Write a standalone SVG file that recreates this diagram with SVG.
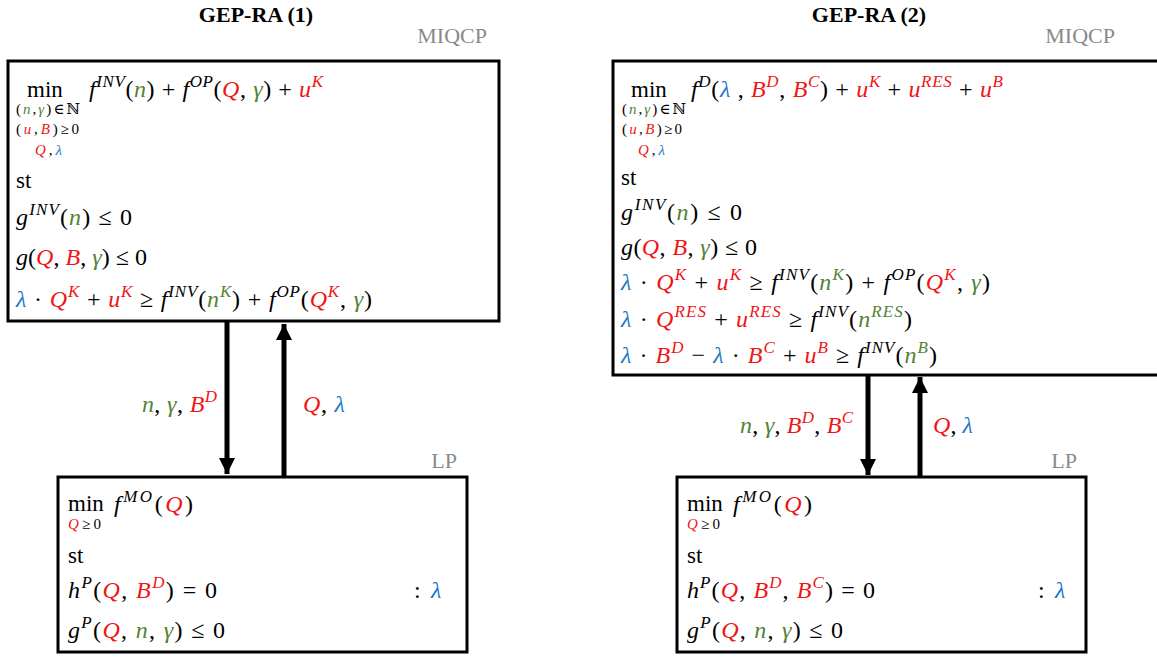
<svg xmlns="http://www.w3.org/2000/svg" width="1157" height="657" viewBox="0 0 1157 657">
<defs>
<style>
.t{font-family:"Liberation Serif","DejaVu Serif",serif;font-size:24px;fill:#000}
.m{font-family:"Liberation Serif","DejaVu Serif",serif;font-size:23px;fill:#000}
.i{font-style:italic}
.r{fill:#f01414}
.g{fill:#548235}
.b{fill:#2077c2}
.sp{font-size:17px}
.sb{font-size:15px;font-family:"Liberation Serif","DejaVu Serif",serif;fill:#000}
.ttl{font-family:"Liberation Serif",serif;font-size:22px;font-weight:bold;fill:#000}
.lab{font-family:"Liberation Serif",serif;font-size:22px;fill:#8a8a8a}
.box{fill:#fff;stroke:#000;stroke-width:3}
.ln{stroke:#000;stroke-width:5;fill:none}
</style>
<marker id="ah" viewBox="0 0 10 10" refX="10" refY="5" markerWidth="3.2" markerHeight="3.2" orient="auto" markerUnits="strokeWidth">
<path d="M0,0 L10,5 L0,10 Z" fill="#000"/>
</marker>
</defs>
<rect width="1157" height="657" fill="#fff"/>

<text class="ttl" x="256" y="22" text-anchor="middle">GEP-RA (1)</text>
<text class="ttl" x="869" y="22" text-anchor="middle">GEP-RA (2)</text>

<g id="connectors">
<line class="ln" x1="227" y1="322" x2="227" y2="474" marker-end="url(#ah)"/>
<line class="ln" x1="284" y1="476" x2="284" y2="324" marker-end="url(#ah)"/>
<line class="ln" x1="868" y1="376" x2="868" y2="475" marker-end="url(#ah)"/>
<line class="ln" x1="920" y1="477" x2="920" y2="377" marker-end="url(#ah)"/>
<text class="t" x="142" y="412" textLength="75" lengthAdjust="spacing"><tspan class="i g">n</tspan>, <tspan class="i g">γ</tspan>, <tspan class="i r">B</tspan><tspan class="i r sp" dy="-10">D</tspan></text>
<text class="t" x="303" y="412" textLength="42" lengthAdjust="spacing"><tspan class="i r">Q</tspan>, <tspan class="i b">λ</tspan></text>
<text class="t" x="740" y="433" textLength="113" lengthAdjust="spacing"><tspan class="i g">n</tspan>, <tspan class="i g">γ</tspan>, <tspan class="i r">B</tspan><tspan class="i r sp" dy="-10">D</tspan><tspan dy="10">, </tspan><tspan class="i r">B</tspan><tspan class="i r sp" dy="-10">C</tspan></text>
<text class="t" x="933" y="433" textLength="40" lengthAdjust="spacing"><tspan class="i r">Q</tspan>, <tspan class="i b">λ</tspan></text>
</g>

<g id="gep1">
<rect class="box" x="8" y="61" width="491" height="260"/>
<text class="lab" x="487" y="43" text-anchor="end">MIQCP</text>
<text class="m" x="27" y="97">min</text>
<text class="t" x="89" y="97" textLength="234" lengthAdjust="spacing"><tspan class="i">f</tspan><tspan class="i sp" dy="-10">INV</tspan><tspan dy="10">(</tspan><tspan class="i g">n</tspan>) + <tspan class="i">f</tspan><tspan class="i sp" dy="-10">OP</tspan><tspan dy="10">(</tspan><tspan class="i r">Q</tspan>, <tspan class="i g">γ</tspan>) + <tspan class="i r">u</tspan><tspan class="i r sp" dy="-10">K</tspan></text>
<text class="sb" x="16" y="114" textLength="64" lengthAdjust="spacing">(<tspan class="i g">n</tspan>,<tspan class="i g">γ</tspan>)∈ℕ</text>
<text class="sb" x="16" y="134" textLength="63" lengthAdjust="spacing">(<tspan class="i r">u</tspan>,<tspan class="i r">B</tspan>)≥0</text>
<text class="sb" x="35" y="155" textLength="27" lengthAdjust="spacing"><tspan class="i r">Q</tspan>,<tspan class="i b">λ</tspan></text>
<text class="m" x="16" y="188">st</text>
<text class="t" x="16" y="225" textLength="116" lengthAdjust="spacing"><tspan class="i">g</tspan><tspan class="i sp" dy="-10">INV</tspan><tspan dy="10">(</tspan><tspan class="i g">n</tspan>) ≤ 0</text>
<text class="t" x="16" y="265" textLength="131" lengthAdjust="spacing"><tspan class="i">g</tspan>(<tspan class="i r">Q</tspan>, <tspan class="i r">B</tspan>, <tspan class="i g">γ</tspan>) ≤ 0</text>
<text class="t" x="16" y="307" textLength="356" lengthAdjust="spacing"><tspan class="i b">λ</tspan> · <tspan class="i r">Q</tspan><tspan class="i r sp" dy="-10">K</tspan><tspan dy="10"> + </tspan><tspan class="i r">u</tspan><tspan class="i r sp" dy="-10">K</tspan><tspan dy="10"> ≥ </tspan><tspan class="i">f</tspan><tspan class="i sp" dy="-10">INV</tspan><tspan dy="10">(</tspan><tspan class="i g">n</tspan><tspan class="i g sp" dy="-10">K</tspan><tspan dy="10">) + </tspan><tspan class="i">f</tspan><tspan class="i sp" dy="-10">OP</tspan><tspan dy="10">(</tspan><tspan class="i r">Q</tspan><tspan class="i r sp" dy="-10">K</tspan><tspan dy="10">, </tspan><tspan class="i g">γ</tspan>)</text>
</g>

<g id="lp1">
<rect class="box" x="58" y="477" width="409" height="175"/>
<text class="lab" x="457" y="468" text-anchor="end">LP</text>
<text class="m" x="68" y="511">min</text>
<text class="t" x="114" y="512" textLength="79" lengthAdjust="spacing"><tspan class="i">f</tspan><tspan class="i sp" dy="-10">MO</tspan><tspan dy="10">(</tspan><tspan class="i r">Q</tspan>)</text>
<text class="sb" x="68" y="529" textLength="33" lengthAdjust="spacing"><tspan class="i r">Q</tspan>≥0</text>
<text class="m" x="68" y="563">st</text>
<text class="t" x="68" y="598" textLength="149" lengthAdjust="spacing"><tspan class="i">h</tspan><tspan class="i sp" dy="-10">P</tspan><tspan dy="10">(</tspan><tspan class="i r">Q</tspan>, <tspan class="i r">B</tspan><tspan class="i r sp" dy="-10">D</tspan><tspan dy="10">) = 0</tspan></text>
<text class="t" x="414" y="598">:</text>
<text class="t i b" x="431" y="598">λ</text>
<text class="t" x="68" y="638" textLength="157" lengthAdjust="spacing"><tspan class="i">g</tspan><tspan class="i sp" dy="-10">P</tspan><tspan dy="10">(</tspan><tspan class="i r">Q</tspan>, <tspan class="i g">n</tspan>, <tspan class="i g">γ</tspan>) ≤ 0</text>
</g>

<g id="gep2">
<rect class="box" x="613" y="61" width="560" height="314"/>
<text class="lab" x="1115" y="43" text-anchor="end">MIQCP</text>
<text class="m" x="631" y="97">min</text>
<text class="t" x="691" y="97" textLength="312" lengthAdjust="spacing"><tspan class="i">f</tspan><tspan class="i sp" dy="-10">D</tspan><tspan dy="10">(</tspan><tspan class="i b">λ</tspan> , <tspan class="i r">B</tspan><tspan class="i r sp" dy="-10">D</tspan><tspan dy="10">, </tspan><tspan class="i r">B</tspan><tspan class="i r sp" dy="-10">C</tspan><tspan dy="10">) + </tspan><tspan class="i r">u</tspan><tspan class="i r sp" dy="-10">K</tspan><tspan dy="10"> + </tspan><tspan class="i r">u</tspan><tspan class="i r sp" dy="-10">RES</tspan><tspan dy="10"> + </tspan><tspan class="i r">u</tspan><tspan class="i r sp" dy="-10">B</tspan></text>
<text class="sb" x="622" y="114" textLength="64" lengthAdjust="spacing">(<tspan class="i g">n</tspan>,<tspan class="i g">γ</tspan>)∈ℕ</text>
<text class="sb" x="622" y="134" textLength="60" lengthAdjust="spacing">(<tspan class="i r">u</tspan>,<tspan class="i r">B</tspan>)≥0</text>
<text class="sb" x="638" y="155" textLength="27" lengthAdjust="spacing"><tspan class="i r">Q</tspan>,<tspan class="i b">λ</tspan></text>
<text class="m" x="621" y="185">st</text>
<text class="t" x="621" y="220" textLength="121" lengthAdjust="spacing"><tspan class="i">g</tspan><tspan class="i sp" dy="-10">INV</tspan><tspan dy="10">(</tspan><tspan class="i g">n</tspan>) ≤ 0</text>
<text class="t" x="621" y="255" textLength="136" lengthAdjust="spacing"><tspan class="i">g</tspan>(<tspan class="i r">Q</tspan>, <tspan class="i r">B</tspan>, <tspan class="i g">γ</tspan>) ≤ 0</text>
<text class="t" x="621" y="290" textLength="369" lengthAdjust="spacing"><tspan class="i b">λ</tspan> · <tspan class="i r">Q</tspan><tspan class="i r sp" dy="-10">K</tspan><tspan dy="10"> + </tspan><tspan class="i r">u</tspan><tspan class="i r sp" dy="-10">K</tspan><tspan dy="10"> ≥ </tspan><tspan class="i">f</tspan><tspan class="i sp" dy="-10">INV</tspan><tspan dy="10">(</tspan><tspan class="i g">n</tspan><tspan class="i g sp" dy="-10">K</tspan><tspan dy="10">) + </tspan><tspan class="i">f</tspan><tspan class="i sp" dy="-10">OP</tspan><tspan dy="10">(</tspan><tspan class="i r">Q</tspan><tspan class="i r sp" dy="-10">K</tspan><tspan dy="10">, </tspan><tspan class="i g">γ</tspan>)</text>
<text class="t" x="621" y="327" textLength="291" lengthAdjust="spacing"><tspan class="i b">λ</tspan> · <tspan class="i r">Q</tspan><tspan class="i r sp" dy="-10">RES</tspan><tspan dy="10"> + </tspan><tspan class="i r">u</tspan><tspan class="i r sp" dy="-10">RES</tspan><tspan dy="10"> ≥ </tspan><tspan class="i">f</tspan><tspan class="i sp" dy="-10">INV</tspan><tspan dy="10">(</tspan><tspan class="i g">n</tspan><tspan class="i g sp" dy="-10">RES</tspan><tspan dy="10">)</tspan></text>
<text class="t" x="621" y="363" textLength="316" lengthAdjust="spacing"><tspan class="i b">λ</tspan> · <tspan class="i r">B</tspan><tspan class="i r sp" dy="-10">D</tspan><tspan dy="10"> − </tspan><tspan class="i b">λ</tspan> · <tspan class="i r">B</tspan><tspan class="i r sp" dy="-10">C</tspan><tspan dy="10"> + </tspan><tspan class="i r">u</tspan><tspan class="i r sp" dy="-10">B</tspan><tspan dy="10"> ≥ </tspan><tspan class="i">f</tspan><tspan class="i sp" dy="-10">INV</tspan><tspan dy="10">(</tspan><tspan class="i g">n</tspan><tspan class="i g sp" dy="-10">B</tspan><tspan dy="10">)</tspan></text>
</g>

<g id="lp2">
<rect class="box" x="677" y="477" width="409" height="175"/>
<text class="lab" x="1077" y="468" text-anchor="end">LP</text>
<text class="m" x="687" y="511">min</text>
<text class="t" x="733" y="512" textLength="79" lengthAdjust="spacing"><tspan class="i">f</tspan><tspan class="i sp" dy="-10">MO</tspan><tspan dy="10">(</tspan><tspan class="i r">Q</tspan>)</text>
<text class="sb" x="687" y="529" textLength="33" lengthAdjust="spacing"><tspan class="i r">Q</tspan>≥0</text>
<text class="m" x="687" y="563">st</text>
<text class="t" x="687" y="598" textLength="188" lengthAdjust="spacing"><tspan class="i">h</tspan><tspan class="i sp" dy="-10">P</tspan><tspan dy="10">(</tspan><tspan class="i r">Q</tspan>, <tspan class="i r">B</tspan><tspan class="i r sp" dy="-10">D</tspan><tspan dy="10">, </tspan><tspan class="i r">B</tspan><tspan class="i r sp" dy="-10">C</tspan><tspan dy="10">) = 0</tspan></text>
<text class="t" x="1038" y="598">:</text>
<text class="t i b" x="1055" y="598">λ</text>
<text class="t" x="687" y="638" textLength="156" lengthAdjust="spacing"><tspan class="i">g</tspan><tspan class="i sp" dy="-10">P</tspan><tspan dy="10">(</tspan><tspan class="i r">Q</tspan>, <tspan class="i g">n</tspan>, <tspan class="i g">γ</tspan>) ≤ 0</text>
</g>
</svg>
